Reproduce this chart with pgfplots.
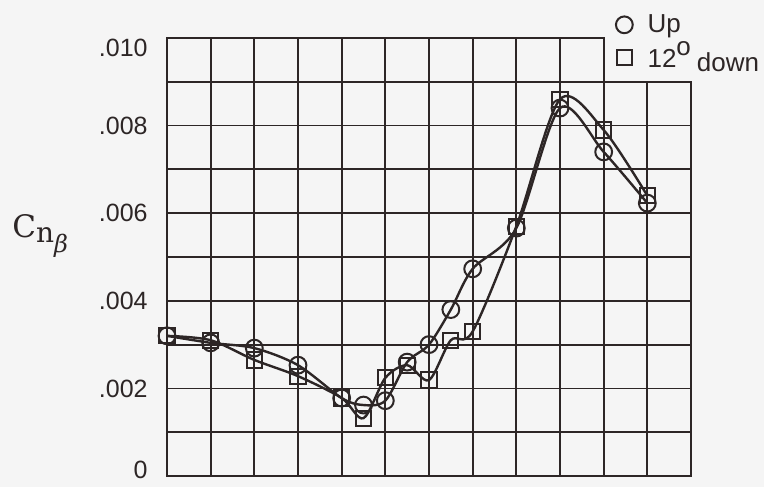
\documentclass[border=0pt]{standalone}
\usepackage{pgfplots}
\pgfplotsset{compat=1.18}
\usepackage{pgfplotstable}
\usepackage{fontspec}
\setmainfont{Liberation Sans}
\newfontfamily\slab{DejaVu Serif}

\definecolor{ink}{RGB}{45,38,38}
\definecolor{paper}{RGB}{245,245,245}

% C_n_beta, flap up
\pgfplotstableread{
x y
0   0.00320
1   0.00304
2   0.00292
3   0.00253
4   0.00178
4.5 0.00162
5   0.00172
5.5 0.00260
6   0.00300
6.5 0.00380
7   0.00473
8   0.00566
9   0.00840
10  0.00740
11  0.00623
}\upflap

% C_n_beta, flap 12 deg down
\pgfplotstableread{
x y
0   0.00320
1   0.00310
2   0.00265
3   0.00228
4   0.00178
4.5 0.00132
5   0.00224
5.5 0.00253
6   0.00219
6.5 0.00310
7   0.00330
8   0.00570
9   0.00860
10  0.00790
11  0.00640
}\downflap

\begin{document}
\begin{tikzpicture}[gridl/.style={ink, line width=0.9pt, line cap=rect}]
\fill[paper] (-83.5pt,-5.5pt) rectangle ++(382pt,243.5pt);
\begin{axis}[
    at={(0,0)}, anchor=south west,
    scale only axis,
    width=262pt, height=219pt,
    xmin=0, xmax=12, ymin=0, ymax=0.010,
    xtick=\empty,
    ytick={0,0.002,0.004,0.006,0.008,0.010},
    yticklabels={{\raisebox{3pt}[\height][\depth]{0}},.002,.004,.006,.008,{\raisebox{-5pt}[\height][\depth]{.010}}},
    scaled y ticks=false,
    axis line style={draw=none},
    major tick length=0pt,
    yticklabel style={font=\fontsize{12.5}{14}\selectfont, inner sep=0pt, xshift=-9.5pt, text=ink},
    clip=false,
    legend style={at={(0.856,1.064)}, anchor=north west, draw=none, fill=none, inner sep=0pt,
        font=\fontsize{13}{15}\selectfont, text=ink, row sep=-1pt},
    legend cell align=left,
    legend image code/.code={\draw[#1, only marks] plot coordinates {(0.15cm,0cm)}; \path (0.15cm,0cm) ++(9pt,0pt);},
]
% grid, open in the top right corner where the legend sits
\pgfplotsinvokeforeach{0,...,10}{\draw[gridl] (axis cs:#1,0) -- (axis cs:#1,0.010);}
\pgfplotsinvokeforeach{11,12}{\draw[gridl] (axis cs:#1,0) -- (axis cs:#1,0.009);}
\pgfplotsinvokeforeach{0,...,9}{\draw[gridl] (axis cs:0,0.00#1) -- (axis cs:12,0.00#1);}
\draw[gridl] (axis cs:0,0.010) -- (axis cs:10,0.010);

\addplot[ink, line width=1.2pt, smooth, mark=o, mark size=4.2pt, mark options={line width=1pt}]
    table {\upflap};
\addlegendentry{Up}
\addplot[ink, line width=1.2pt, smooth, mark=square, mark size=3.8pt, mark options={line width=1pt}]
    table {\downflap};
\addlegendentry{\raisebox{2pt}{12\raisebox{6pt}{o}}\hspace{3pt}down}
\end{axis}
\node[text=ink, anchor=base west, inner sep=0pt] at (-77.5pt,119pt)
    {\slab\fontsize{15.5}{17}\selectfont C\raisebox{-2.5pt}{\fontsize{14}{16}\selectfont n\raisebox{-5pt}{\itshape\fontsize{12}{14}\selectfont β}}};
\pgfresetboundingbox
\useasboundingbox (-83.5pt,-5.5pt) rectangle ++(382pt,243.5pt);
\end{tikzpicture}
\end{document}
